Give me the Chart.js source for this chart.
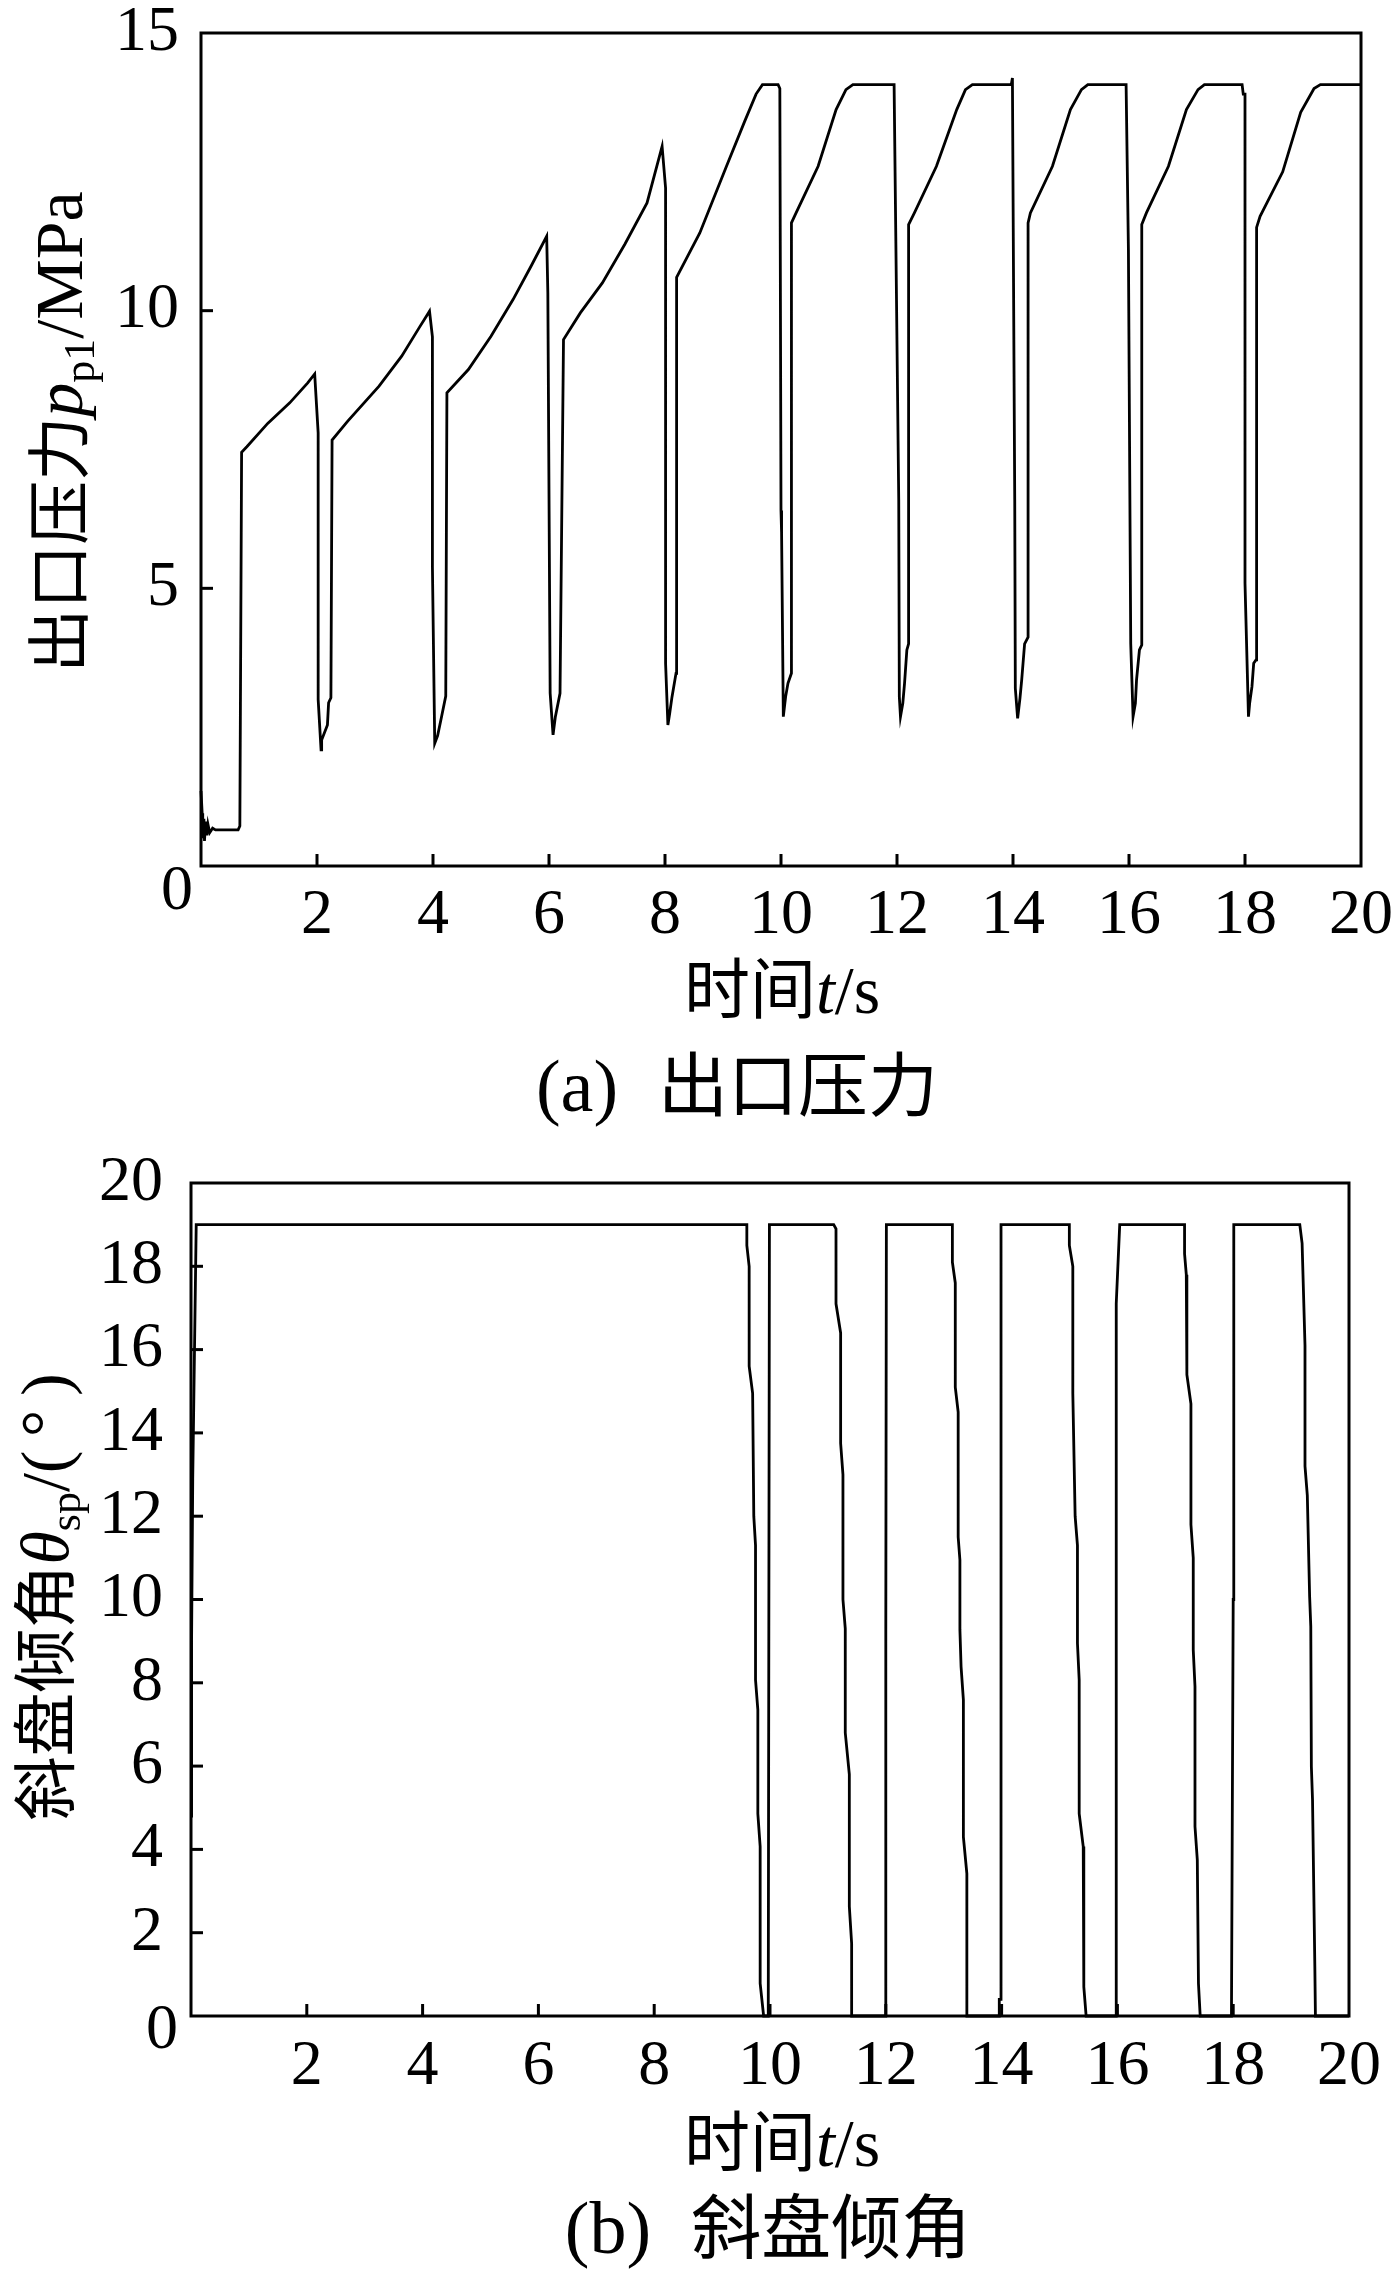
<!DOCTYPE html>
<html><head><meta charset="utf-8">
<script src="https://cdn.jsdelivr.net/npm/chart.js@4.4.1/dist/chart.umd.min.js"></script>
<style>
html,body{margin:0;padding:0;background:#fff;}
#wrap{width:1398px;height:2283px;position:relative;background:#fff;}
canvas{display:block;position:absolute;left:0;}
</style></head><body>
<div id="wrap">
<canvas id="cA" width="1398" height="1140" style="top:0"></canvas>
<canvas id="cB" width="1398" height="1143" style="top:1140px"></canvas>
</div>
<script>
// ---------- data ----------
const pressureTime = [0,0.02,0.03,0.05,0.06,0.08,0.10,0.12,0.15,0.2,0.25,0.64,0.67,0.70,0.79,
 1.15,1.53,1.84,1.96,2.02,2.02,2.07,2.08,2.18,2.20,2.24,2.26,
 2.53,3.07,3.46,3.76,3.94,3.99,3.99,4.03,4.08,4.15,4.22,4.24,
 4.61,5.00,5.38,5.69,5.96,5.98,6.02,6.07,6.11,6.19,6.25,
 6.54,6.92,7.31,7.69,7.95,8.01,8.01,8.05,8.08,8.12,8.19,8.20,
 8.6,9.06,9.37,9.57,9.68,9.95,9.98,10.0,10.01,10.04,10.08,10.12,10.18,10.18,
 10.26,10.64,10.95,11.12,11.24,11.95,12.03,12.04,12.06,12.10,12.13,12.17,12.20,12.20,
 12.30,12.68,13.03,13.18,13.30,13.97,13.99,14.03,14.04,14.08,14.12,14.15,14.20,14.26,14.26,
 14.30,14.68,14.99,15.18,15.29,15.95,15.99,16.03,16.07,16.11,16.13,16.18,16.22,16.22,
 16.30,16.68,16.99,17.19,17.30,17.95,17.97,18.00,18.00,18.06,18.08,18.12,18.15,18.19,18.20,
 18.26,18.65,18.96,19.19,19.30,20.0];
const pressureValue = [1.35,0.95,0.5,0.85,0.45,0.8,0.55,0.75,0.6,0.68,0.65,0.65,0.72,7.45,7.55,
 7.97,8.34,8.70,8.86,7.8,3.0,2.09,2.27,2.54,2.94,3.03,7.67,
 8.01,8.64,9.18,9.69,9.99,9.53,5.39,2.21,2.35,2.70,3.06,8.52,
 8.94,9.54,10.2,10.8,11.34,10.32,3.11,2.36,2.69,3.11,9.48,
 9.96,10.5,11.2,11.94,12.96,12.21,3.65,2.54,2.74,3.04,3.47,10.6,
 11.4,12.6,13.4,13.9,14.07,14.07,14.0,6.4,6.0,2.69,3.05,3.29,3.47,11.58,
 11.76,12.6,13.62,13.98,14.07,14.07,6.6,3.05,2.69,2.93,3.29,3.89,4.0,11.55,
 11.76,12.6,13.62,13.98,14.07,14.07,14.19,6.6,3.2,2.66,3.02,3.35,4.0,4.12,11.58,
 11.76,12.6,13.62,13.98,14.07,14.07,11.1,4.0,2.69,2.93,3.35,3.89,3.98,11.55,
 11.76,12.6,13.62,13.98,14.07,14.07,13.9,13.9,5.09,2.69,2.93,3.23,3.65,3.71,11.5,
 11.7,12.5,13.57,14.0,14.07,14.07];

const angleTime = [0,0.01,0.03,0.09,9.60,9.60,9.64,9.64,9.70,9.72,9.75,9.75,9.79,9.79,9.83,9.83,9.89,9.97,9.99,
 11.10,11.14,11.14,11.22,11.22,11.26,11.26,11.30,11.30,11.37,11.37,11.41,11.41,11.99,12.00,12.01,
 13.15,13.15,13.20,13.20,13.25,13.25,13.28,13.28,13.30,13.34,13.34,13.40,13.40,13.96,13.96,13.99,13.99,
 15.17,15.17,15.23,15.23,15.27,15.31,15.31,15.34,15.34,15.41,15.42,15.46,15.98,15.98,16.04,
 17.16,17.16,17.19,17.20,17.27,17.27,17.31,17.31,17.34,17.34,17.38,17.40,17.43,17.97,18.00,18.01,
 19.15,19.19,19.24,19.24,19.28,19.32,19.34,19.35,19.37,19.41,19.42,20.0];
const angleValue = [4.8,9.0,12.9,19.0,19.0,18.5,18.0,15.6,14.95,12.0,11.3,8.07,7.35,4.86,4.07,0.78,0,0,19.0,
 19.0,18.9,17.1,16.4,13.75,13.0,10.0,9.3,6.8,5.8,2.63,1.74,0,0,9.3,19.0,
 19.0,18.1,17.6,15.1,14.5,11.5,10.95,9.27,8.39,7.59,4.3,3.42,0,0,0.4,0.4,19.0,
 19.0,18.5,18.0,14.95,12.0,11.3,8.95,8.07,4.86,4.07,0.7,0,0,17.1,19.0,
 19.0,18.3,17.8,15.4,14.7,11.8,11.0,8.79,7.91,4.55,3.75,0.78,0,0,10.0,19.0,
 19.0,18.55,16.1,13.2,12.5,10.07,9.35,5.99,5.19,1.19,0,0];

const timeTicks = [0,2,4,6,8,10,12,14,16,18,20];
const pressureTicks = [0,5,10,15];
const angleTicks = [0,2,4,6,8,10,12,14,16,18,20];

// ---------- drawing helpers ----------
const LATIN = '"Liberation Serif", "Times New Roman", serif';
const CJK = '"Noto Sans CJK SC", "Noto Sans CJK JP", sans-serif';

function drawRich(ctx, segs, cx, baseY, rot) {
  let total = 0;
  const widths = segs.map(s => { ctx.font = s.font; const w = ctx.measureText(s.text).width + (s.gap || 0); total += w; return w; });
  ctx.save();
  ctx.translate(cx, baseY);
  if (rot) ctx.rotate(rot);
  ctx.textAlign = 'left';
  ctx.textBaseline = 'alphabetic';
  ctx.fillStyle = '#000';
  let x = -total / 2;
  segs.forEach((s, i) => { ctx.font = s.font; ctx.fillText(s.text, x, s.dy || 0); x += widths[i]; });
  ctx.restore();
}

const decor = {
  id: 'decor',
  afterDatasetsDraw(chart, args, o) {
    const ctx = chart.ctx, a = chart.chartArea;
    const xs = chart.scales.x, ys = chart.scales.y;
    ctx.save();
    ctx.strokeStyle = '#000';
    ctx.lineWidth = 3;
    ctx.lineCap = 'square';
    ctx.strokeRect(a.left, a.top, a.right - a.left, a.bottom - a.top);
    ctx.lineCap = 'butt';
    o.xTicks.forEach(v => {
      if (v <= xs.min || v >= xs.max) return;
      const px = xs.getPixelForValue(v);
      ctx.beginPath(); ctx.moveTo(px, a.bottom); ctx.lineTo(px, a.bottom - o.tickLen); ctx.stroke();
    });
    o.yTicks.forEach(v => {
      if (v <= ys.min || v >= ys.max) return;
      const py = ys.getPixelForValue(v);
      ctx.beginPath(); ctx.moveTo(a.left, py); ctx.lineTo(a.left + o.tickLen, py); ctx.stroke();
    });
    // origin label
    ctx.fillStyle = '#000';
    ctx.font = '64px ' + LATIN;
    ctx.textAlign = 'center';
    ctx.textBaseline = 'alphabetic';
    ctx.fillText('0', xs.getPixelForValue(0) + o.zeroDx, ys.getPixelForValue(0) + o.zeroDy);
    ctx.restore();
    o.texts.forEach(t => drawRich(ctx, t.segs, t.x, t.y, t.rot));
  }
};

function makeChart(id, times, values, yTicks, yMax, cfg) {
  const pts = times.map((t, i) => ({ x: t, y: values[i] }));
  return new Chart(document.getElementById(id), {
    type: 'line',
    data: { datasets: [{ data: pts, borderColor: '#000', borderWidth: 2.8, pointRadius: 0, fill: false, tension: 0, clip: 4 }] },
    options: {
      responsive: false, animation: false, events: [],
      layout: { padding: { top: cfg.top, right: cfg.right, left: 0, bottom: 0 } },
      plugins: { legend: { display: false }, tooltip: { enabled: false }, decor: cfg.decor },
      scales: {
        x: {
          type: 'linear', min: 0, max: 20,
          afterBuildTicks: s => { s.ticks = timeTicks.map(v => ({ value: v })); },
          afterFit: s => { s.height = cfg.xHeight; s.paddingLeft = 0; s.paddingRight = 0; },
          ticks: { callback: v => v === 0 ? '' : String(v), font: { family: LATIN, size: 64 }, color: '#000', padding: cfg.xPad, maxRotation: 0, autoSkip: false },
          grid: { display: false, drawTicks: false }, border: { display: false }
        },
        y: {
          type: 'linear', min: 0, max: yMax,
          afterBuildTicks: s => { s.ticks = yTicks.map(v => ({ value: v })); },
          afterFit: s => { s.width = cfg.yWidth; s.paddingTop = 0; s.paddingBottom = 0; },
          ticks: { callback: v => v === 0 ? '' : String(v), font: { family: LATIN, size: 64 }, color: '#000', padding: cfg.yPad, autoSkip: false },
          grid: { display: false, drawTicks: false }, border: { display: false }
        }
      }
    },
    plugins: [decor]
  });
}

// Chart (a)
makeChart('cA', pressureTime, pressureValue, pressureTicks, 15, {
  top: 33, right: 37, xHeight: 274, yWidth: 201, xPad: 12, yPad: 22,
  decor: {
    tickLen: 12, xTicks: timeTicks, yTicks: pressureTicks, zeroDx: -24, zeroDy: 43,
    texts: [
      { x: 782, y: 1013, segs: [
        { text: '时间', font: '66px ' + CJK },
        { text: 't', font: 'italic 68px ' + LATIN },
        { text: '/s', font: '68px ' + LATIN }] },
      { x: 82, y: 432, rot: -Math.PI / 2, segs: [
        { text: '出口压力', font: '64px ' + CJK },
        { text: 'p', font: 'italic 68px ' + LATIN },
        { text: 'p1', font: '44px ' + LATIN, dy: 12 },
        { text: '/MPa', font: '68px ' + LATIN }] },
      { x: 737, y: 1111, segs: [
        { text: '(a)', font: '74px ' + LATIN, gap: 40 },
        { text: '出口压力', font: '70px ' + CJK }] }
    ]
  }
});

// Chart (b)
makeChart('cB', angleTime, angleValue, angleTicks, 20, {
  top: 43, right: 49, xHeight: 267, yWidth: 191, xPad: 13, yPad: 28,
  decor: {
    tickLen: 12, xTicks: timeTicks, yTicks: angleTicks, zeroDx: -29, zeroDy: 32,
    texts: [
      { x: 782, y: 1026, segs: [
        { text: '时间', font: '66px ' + CJK },
        { text: 't', font: 'italic 68px ' + LATIN },
        { text: '/s', font: '68px ' + LATIN }] },
      { x: 68, y: 457, rot: -Math.PI / 2, segs: [
        { text: '斜盘倾角', font: '64px ' + CJK },
        { text: 'θ', font: 'italic 68px ' + LATIN },
        { text: 'sp', font: '44px ' + LATIN, dy: 12 },
        { text: '/(\u2009°\u2009)', font: '68px ' + LATIN }] },
      { x: 768, y: 1113, segs: [
        { text: '(b)', font: '74px ' + LATIN, gap: 40 },
        { text: '斜盘倾角', font: '70px ' + CJK }] }
    ]
  }
});
</script>
</body></html>
